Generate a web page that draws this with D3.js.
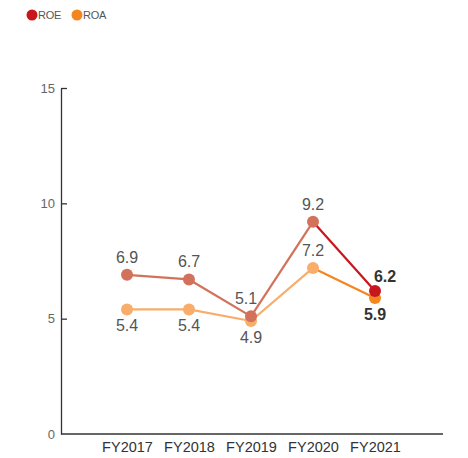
<!DOCTYPE html>
<html>
<head>
<meta charset="utf-8">
<script src="https://cdn.jsdelivr.net/npm/d3@7"></script>
<style>
  html, body { margin: 0; padding: 0; background: #fff; }
  svg { display: block; font-family: "Liberation Sans", Arial, Helvetica, sans-serif; }
</style>
</head>
<body>
<svg id="chart" width="468" height="458"></svg>
<script>
// Fiscal years and return ratios (%)
const years = ["FY2017", "FY2018", "FY2019", "FY2020", "FY2021"];
const roe = [6.9, 6.7, 5.1, 9.2, 6.2];
const roa = [5.4, 5.4, 4.9, 7.2, 5.9];
const yTicks = [0, 5, 10, 15];
// Label placement for each ROA value: above or below its point
const roaLabelSide = ["below", "below", "below", "above", "below"];

const svg = d3.select("#chart");
const margin = { left: 61 };

const x = d3.scalePoint().domain(years).range([127, 375]);
const y = d3.scaleLinear().domain([0, 15]).range([434, 88]);

const roeColors = { past: "#d3725a", last: "#c8161e" };
const roaColors = { past: "#f8ad6b", last: "#f3861f" };

// Legend
const legend = svg.append("g").attr("transform", "translate(0,15)");
[["ROE", roeColors.last, 32], ["ROA", roaColors.last, 77]].forEach(([name, color, lx]) => {
  legend.append("circle").attr("cx", lx).attr("cy", 0).attr("r", 5.5).attr("fill", color);
  legend.append("text").attr("x", lx + 6).attr("y", 4).attr("font-size", 11)
    .attr("letter-spacing", -0.3)
    .attr("fill", "#555").text(name);
});

// Y axis
const yAxis = d3.axisLeft(y).tickValues(yTicks).tickSize(0).tickPadding(6);
const yg = svg.append("g").attr("transform", `translate(${margin.left},0)`).call(yAxis);
yg.select(".domain").attr("stroke", "#333").attr("stroke-width", 1.3);
yg.selectAll(".tick text").attr("font-size", 13).attr("fill", "#666")
  .attr("font-family", "Liberation Sans, Arial, sans-serif");
yg.selectAll(".tick").filter(d => d !== 0).append("line")
  .attr("x1", 0).attr("x2", 6).attr("stroke", "#333").attr("stroke-width", 1.3);

// X axis baseline
svg.append("line")
  .attr("x1", margin.left).attr("x2", 443)
  .attr("y1", y(0)).attr("y2", y(0))
  .attr("stroke", "#333").attr("stroke-width", 1.3);

const xg = svg.append("g").attr("transform", `translate(0,${y(0)})`)
  .call(d3.axisBottom(x).tickSize(0).tickPadding(8));
xg.select(".domain").remove();
xg.selectAll(".tick text").attr("font-size", 14.5).attr("fill", "#333")
  .attr("font-family", "Liberation Sans, Arial, sans-serif");

// Draws one series: muted segments for earlier years, bright final segment
function drawSeries(values, colors) {
  const n = values.length;
  for (let i = 0; i < n - 1; i++) {
    const c = i === n - 2 ? colors.last : colors.past;
    svg.append("line")
      .attr("x1", x(years[i])).attr("y1", y(values[i]))
      .attr("x2", x(years[i + 1])).attr("y2", y(values[i + 1]))
      .attr("stroke", c).attr("stroke-width", 2.2);
  }
  values.forEach((v, i) => {
    svg.append("circle")
      .attr("cx", x(years[i])).attr("cy", y(v)).attr("r", 6)
      .attr("fill", i === n - 1 ? colors.last : colors.past);
  });
}

drawSeries(roa, roaColors);
drawSeries(roe, roeColors);

// Value labels
function drawLabels(values, sides, lastDx) {
  const n = values.length;
  values.forEach((v, i) => {
    const last = i === n - 1;
    const above = sides[i] === "above";
    svg.append("text")
      .attr("x", x(years[i]) + (last ? lastDx : 0) + (i === 2 && above ? -5 : 0))
      .attr("y", y(v) + (above ? (last ? -9 : -12) : 22))
      .attr("text-anchor", "middle")
      .attr("font-size", 16)
      .attr("font-weight", last ? "bold" : "normal")
      .attr("fill", last ? "#333" : "#555")
      .text(v.toFixed(1));
  });
}

drawLabels(roe, roe.map(() => "above"), 10);
drawLabels(roa, roaLabelSide, 0);
</script>
</body>
</html>
